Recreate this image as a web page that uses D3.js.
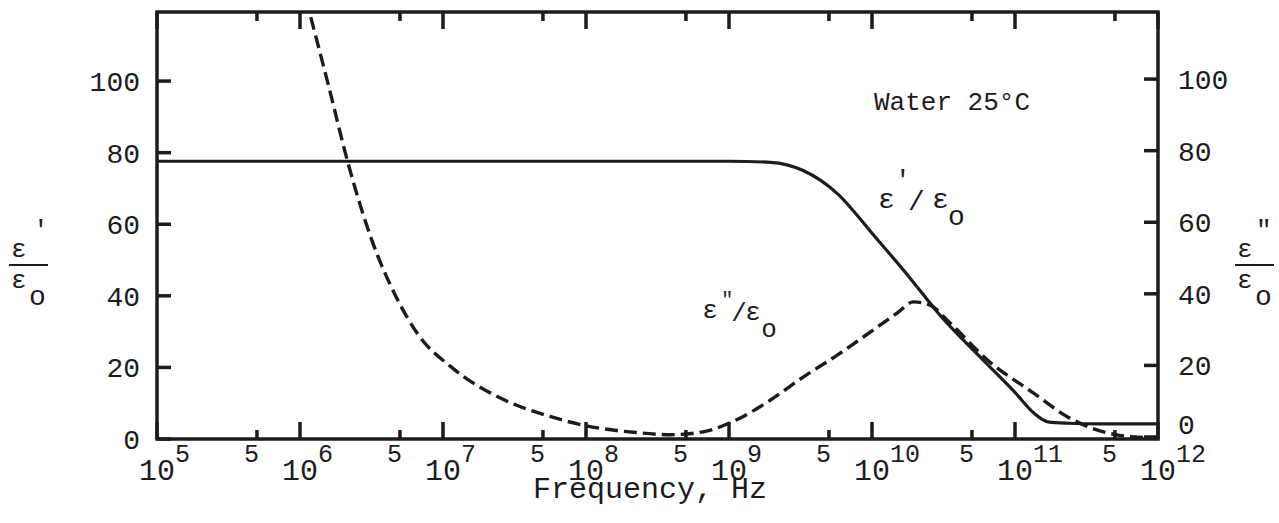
<!DOCTYPE html>
<html>
<head>
<meta charset="utf-8">
<script src="https://cdn.jsdelivr.net/npm/d3@7"></script>
<style>
  body { margin: 0; background: #fff; }
  svg text { font-family: "Liberation Mono", "Courier New", monospace; fill: #1c1c1c; }
</style>
</head>
<body>
<div id="chart"></div>
<script>
// values (frequency in Hz, relative permittivity)
const realFreq = [1e5, 1e9, 1.95e9, 3.3e9, 5.75e9, 1e10, 1.8e10, 3.0e10, 6.0e10, 1e11, 1.35e11, 1.7e11, 2.35e11, 4e11, 1e12];
const realEps  = [77.6, 77.6, 77.3, 75, 68.5, 57.5, 45.5, 34.5, 22, 13, 7.3, 4.8, 4.4, 4.2, 4.2];

const imagFreq = [1.1e6, 1.6e6, 2.15e6, 3.15e6, 4.8e6, 6.75e6, 1.15e7, 2.5e7, 5.6e7, 1e8, 2.25e8, 3.9e8, 6.6e8,
                  1.12e9, 1.95e9, 3.3e9, 5.75e9, 8.7e9, 1.5e10, 1.95e10, 2.55e10, 3.4e10, 6.45e10,
                  1.35e11, 2.35e11, 3.4e11, 5.25e11, 6.75e11, 1e12];
const imagEps  = [123, 98, 77.6, 56, 39, 29, 20, 11.5, 6.3, 3.7, 1.8, 1.2, 2,
                  5.3, 10.9, 17.3, 23.5, 28.5, 35.2, 38.3, 37.4, 33, 22,
                  12.8, 6.1, 3.1, 1.1, 0.6, 0.3];

const decades = [5, 6, 7, 8, 9, 10, 11, 12];
const yTicks = [0, 20, 40, 60, 80, 100];

const width = 1279;
const height = 523;
const plot = { left: 157, right: 1158, top: 12, bottom: 439 };
const ink = "#1c1c1c";

const svg = d3.select("#chart").append("svg")
    .attr("width", width)
    .attr("height", height);

const x = d3.scaleLog().domain([1e5, 1e12]).range([plot.left, plot.right]);
const y = d3.scaleLinear().domain([0, 119.3]).range([plot.bottom, plot.top]);

const majors = decades.map(e => Math.pow(10, e));
const minors = decades.slice(0, -1).map(e => 5 * Math.pow(10, e));

// frame
svg.append("rect")
    .attr("x", plot.left).attr("y", plot.top)
    .attr("width", plot.right - plot.left).attr("height", plot.bottom - plot.top)
    .attr("fill", "none").attr("stroke", ink).attr("stroke-width", 3.5);

// inward ticks on all four sides, as thin filled rects
const xTicks = majors.map(v => ({ v, len: 17 })).concat(minors.map(v => ({ v, len: 9 })));
const tg = svg.append("g").attr("fill", ink);
xTicks.forEach(d => {
    tg.append("rect").attr("x", x(d.v) - 1.75).attr("y", plot.bottom - d.len).attr("width", 3.5).attr("height", d.len);
    tg.append("rect").attr("x", x(d.v) - 1.75).attr("y", plot.top).attr("width", 3.5).attr("height", d.len);
});
yTicks.forEach(v => {
    tg.append("rect").attr("x", plot.left).attr("y", y(v) - 1.75).attr("width", 14).attr("height", 3.5);
    tg.append("rect").attr("x", plot.right - 14).attr("y", y(v) - 3.75).attr("width", 14).attr("height", 3.5);
});

svg.append("g").selectAll("text").data(yTicks).join("text")
    .attr("x", plot.left - 17).attr("y", d => y(d) + 10)
    .attr("text-anchor", "end").attr("font-size", 28)
    .text(d => d);
svg.append("g").selectAll("text").data(yTicks).join("text")
    .attr("x", plot.right + 20).attr("y", d => y(d) + (d === 0 ? -5 : 8))
    .attr("font-size", 28)
    .text(d => d);

// decade labels 10^n and the 5s between them
const xl = svg.append("g");
decades.forEach(e => {
    const px = x(Math.pow(10, e));
    xl.append("text").attr("x", px).attr("y", 480)
        .attr("text-anchor", "middle").attr("font-size", 30).text("10");
    xl.append("text").attr("x", px + 18).attr("y", 462)
        .attr("font-size", 25).text(e);
});
minors.forEach(v => {
    xl.append("text").attr("x", x(v) + 2).attr("y", 462)
        .attr("text-anchor", "end").attr("font-size", 25).text("5");
});

svg.append("text").attr("x", 650).attr("y", 498)
    .attr("text-anchor", "middle").attr("font-size", 30).text("Frequency, Hz");

// curves
svg.append("clipPath").attr("id", "clip").append("rect")
    .attr("x", plot.left).attr("y", plot.top)
    .attr("width", plot.right - plot.left).attr("height", plot.bottom - plot.top);

const line = d3.line()
    .x(d => x(d[0]))
    .y(d => y(d[1]))
    .curve(d3.curveMonotoneX);

svg.append("path")
    .datum(d3.zip(realFreq, realEps))
    .attr("clip-path", "url(#clip)")
    .attr("d", line)
    .attr("fill", "none")
    .attr("stroke", ink)
    .attr("stroke-width", 3.2);

svg.append("path")
    .datum(d3.zip(imagFreq, imagEps))
    .attr("clip-path", "url(#clip)")
    .attr("d", line)
    .attr("fill", "none")
    .attr("stroke", ink)
    .attr("stroke-width", 3.4)
    .attr("stroke-dasharray", "13,6");

// annotations
svg.append("text")
    .attr("x", x(1e10) + 2).attr("y", y(92))
    .attr("font-size", 26).text("Water 25°C");

function put(px, py, size, str) {
    svg.append("text").attr("x", px).attr("y", py).attr("font-size", size).text(str);
}

// ε'/εo next to the solid curve
{
    const ax = x(1.1e10), ay = y(64.5);
    put(ax, ay, 28, "ε");
    put(ax + 17, ay - 20, 26, "'");
    put(ax + 30, ay + 2, 28, "/");
    put(ax + 54, ay, 28, "ε");
    put(ax + 70, ay + 17, 28, "o");
}
// ε"/εo next to the dashed curve
{
    const ax = x(6.5e8), ay = y(33.8);
    put(ax, ay, 26, "ε");
    put(ax + 19, ay - 12, 20, "\"");
    put(ax + 29, ay + 3, 26, "/");
    put(ax + 43, ay + 2, 26, "ε");
    put(ax + 59, ay + 19, 26, "o");
}

// side labels as fractions
function fraction(px, primes, primeDx) {
    put(px, 257, 26, "ε");
    put(px + primeDx, 238, 26, primes);
    svg.append("line")
        .attr("x1", px - 2).attr("x2", px + 37)
        .attr("y1", 265).attr("y2", 265)
        .attr("stroke", ink).attr("stroke-width", 2.2);
    put(px, 288, 26, "ε");
    put(px + 18, 305, 28, "o");
}
fraction(11, "'", 22);
fraction(1237, "\"", 19);
</script>
</body>
</html>
